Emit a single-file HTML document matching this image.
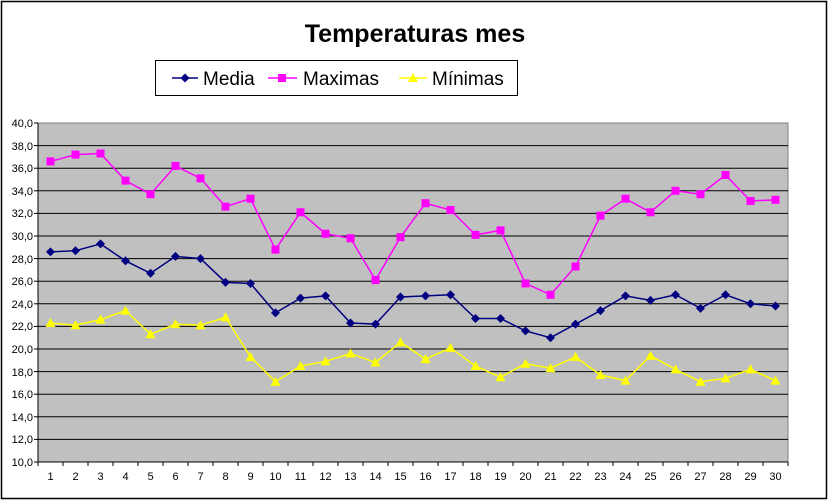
<!DOCTYPE html>
<html><head><meta charset="utf-8"><style>
body{margin:0;background:#fff;}
svg{display:block;font-family:"Liberation Sans",Arial,sans-serif;}
</style></head><body>
<svg id="s" width="829" height="501" xmlns="http://www.w3.org/2000/svg">
<rect x="1.5" y="1.5" width="825" height="497" fill="#fff" stroke="#000" stroke-width="1.5"/>
<text x="415" y="42" text-anchor="middle" font-size="25" font-weight="bold">Temperaturas mes</text>
<rect x="155.5" y="60.5" width="362" height="35" fill="#fff" stroke="#000"/>
<line x1="172" y1="78" x2="198" y2="78" stroke="#000080" stroke-width="1.5"/>
<path d="M185 73.5 L189.5 78 L185 82.5 L180.5 78Z" fill="#000080"/>
<text x="203" y="85" font-size="19">Media</text>
<line x1="268" y1="78" x2="297" y2="78" stroke="#ff00ff" stroke-width="1.5"/>
<rect x="278" y="74" width="8" height="8" fill="#ff00ff"/>
<text x="303" y="85" font-size="19">Maximas</text>
<line x1="399" y1="78" x2="427" y2="78" stroke="#ffff00" stroke-width="1.5"/>
<path d="M413 73 L418 82 L408 82Z" fill="#ffff00"/>
<text x="432" y="85" font-size="19">Mínimas</text>
<rect x="38" y="123" width="750" height="339" fill="#c0c0c0" stroke="#808080"/>
<g id="grid" stroke="#000" stroke-width="1"></g>
<line x1="38" y1="123" x2="38" y2="462" stroke="#000"/>
<line x1="38" y1="462" x2="788" y2="462" stroke="#000"/>
<g font-size="11" text-anchor="end">
<text x="33" y="127">40,0</text><text x="33" y="150">38,0</text><text x="33" y="172">36,0</text><text x="33" y="195">34,0</text><text x="33" y="217">32,0</text><text x="33" y="240">30,0</text><text x="33" y="263">28,0</text><text x="33" y="285">26,0</text><text x="33" y="308">24,0</text><text x="33" y="330">22,0</text><text x="33" y="353">20,0</text><text x="33" y="376">18,0</text><text x="33" y="398">16,0</text><text x="33" y="421">14,0</text><text x="33" y="443">12,0</text><text x="33" y="466">10,0</text>
</g>
<g font-size="11" text-anchor="middle">
<text x="50.5" y="480">1</text><text x="75.5" y="480">2</text><text x="100.5" y="480">3</text><text x="125.5" y="480">4</text><text x="150.5" y="480">5</text><text x="175.5" y="480">6</text><text x="200.5" y="480">7</text><text x="225.5" y="480">8</text><text x="250.5" y="480">9</text><text x="275.5" y="480">10</text><text x="300.5" y="480">11</text><text x="325.5" y="480">12</text><text x="350.5" y="480">13</text><text x="375.5" y="480">14</text><text x="400.5" y="480">15</text><text x="425.5" y="480">16</text><text x="450.5" y="480">17</text><text x="475.5" y="480">18</text><text x="500.5" y="480">19</text><text x="525.5" y="480">20</text><text x="550.5" y="480">21</text><text x="575.5" y="480">22</text><text x="600.5" y="480">23</text><text x="625.5" y="480">24</text><text x="650.5" y="480">25</text><text x="675.5" y="480">26</text><text x="700.5" y="480">27</text><text x="725.5" y="480">28</text><text x="750.5" y="480">29</text><text x="775.5" y="480">30</text>
</g>
<g id="series"></g>
</svg>
<script>
var NS="http://www.w3.org/2000/svg";
function el(t,a,p){var e=document.createElementNS(NS,t);for(var k in a)e.setAttribute(k,a[k]);p.appendChild(e);return e;}
var g=document.getElementById("grid");
for(var v=12;v<=38;v+=2){var y=462-(v-10)*11.3;el("line",{x1:38,x2:788,y1:y,y2:y},g);}
for(var i=0;i<=30;i++){var x=38+25*i;el("line",{x1:x,x2:x,y1:462,y2:466},g);}
for(var v=10;v<=40;v+=2){var y=462-(v-10)*11.3;el("line",{x1:34,x2:38,y1:y,y2:y},g);}
var media=[28.6,28.7,29.3,27.8,26.7,28.2,28.0,25.9,25.8,23.2,24.5,24.7,22.3,22.2,24.6,24.7,24.8,22.7,22.7,21.6,21.0,22.2,23.4,24.7,24.3,24.8,23.6,24.8,24.0,23.8];
var maxi=[36.6,37.2,37.3,34.9,33.7,36.2,35.1,32.6,33.3,28.8,32.1,30.2,29.8,26.1,29.9,32.9,32.3,30.1,30.5,25.8,24.8,27.3,31.8,33.3,32.1,34.0,33.7,35.4,33.1,33.2];
var mini=[22.3,22.1,22.6,23.4,21.3,22.2,22.1,22.8,19.3,17.1,18.5,18.9,19.6,18.8,20.6,19.1,20.1,18.5,17.5,18.7,18.3,19.3,17.7,17.2,19.4,18.2,17.1,17.4,18.2,17.2];
var s=document.getElementById("series");
function draw(d,c,m){var pts=d.map(function(v,i){return [50.5+25*i,462-(v-10)*11.3];});
el("polyline",{points:pts.map(function(p){return p.join(",")}).join(" "),fill:"none",stroke:c,"stroke-width":1.5},s);
pts.forEach(function(p){var x=p[0],y=p[1];
if(m=="d")el("path",{d:"M"+x+" "+(y-4.5)+"L"+(x+4.5)+" "+y+"L"+x+" "+(y+4.5)+"L"+(x-4.5)+" "+y+"Z",fill:c},s);
else if(m=="s")el("rect",{x:x-4,y:y-4,width:8,height:8,fill:c},s);
else el("path",{d:"M"+x+" "+(y-5)+"L"+(x+5)+" "+(y+4)+"L"+(x-5)+" "+(y+4)+"Z",fill:c},s);});}
draw(maxi,"#ff00ff","s");draw(media,"#000080","d");draw(mini,"#ffff00","t");
</script>
</body></html>
